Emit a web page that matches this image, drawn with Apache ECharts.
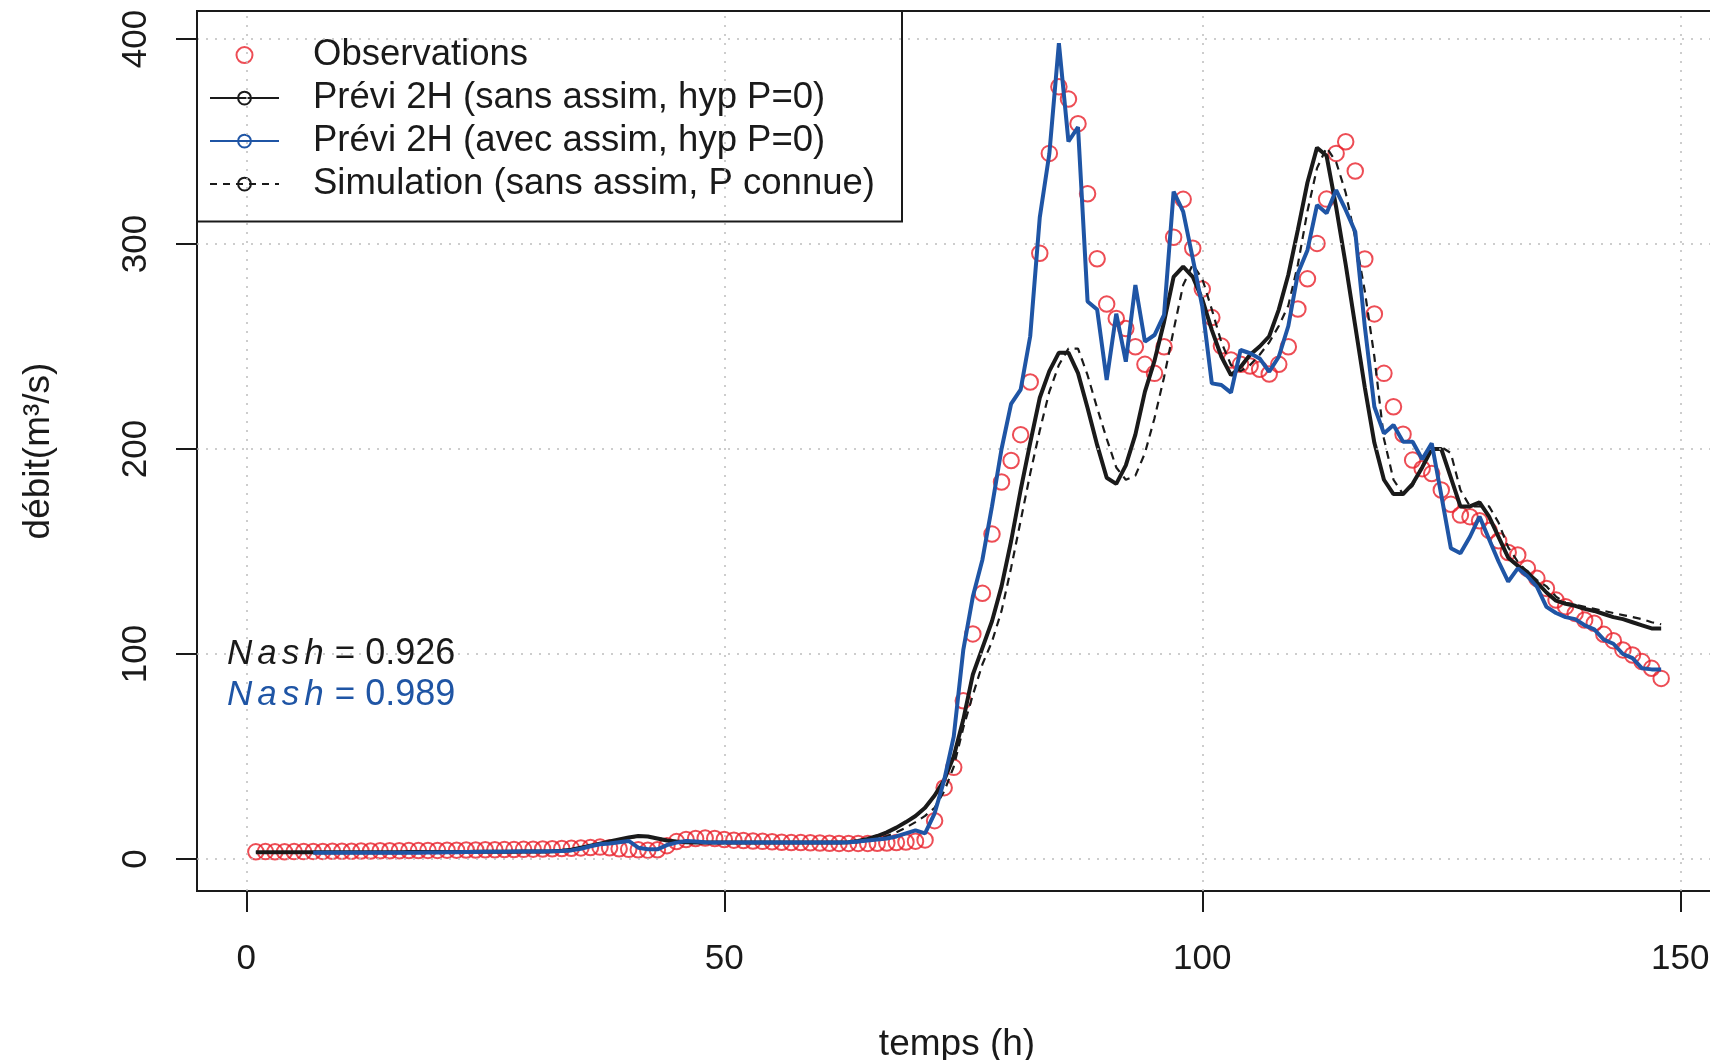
<!DOCTYPE html>
<html><head><meta charset="utf-8">
<script src="https://cdn.jsdelivr.net/npm/echarts@6/dist/echarts.min.js"></script>
<style>html,body{margin:0;padding:0;background:#fff}#c{width:1710px;height:1060px}</style>
</head><body><div id="c"></div>
<script>
// ---- data (hourly values, m3/s) ----
const obsStart = 1;
const obsValues = [
 3.5,3.6,3.5,3.5,3.6,3.6,3.7,3.7,3.8,3.8,
 3.8,3.9,3.9,4.0,4.0,4.0,4.1,4.1,4.2,4.2,
 4.3,4.3,4.4,4.4,4.5,4.5,4.6,4.6,4.7,4.8,
 4.9,5.0,5.1,5.2,5.4,5.6,5.8,5.5,5.0,4.7,
 4.5,4.3,4.5,6.5,8.5,9.5,10.0,10.2,10.0,9.5,
 9.2,9.0,8.8,8.6,8.4,8.2,8.0,8.0,7.9,7.8,
 7.7,7.6,7.6,7.6,7.6,7.7,7.8,8.0,8.3,8.7,
 9.3,18.7,34.8,44.7,77.2,109.8,129.6,158.5,183.9,194.4,
 207,232.7,295.5,344.2,376.7,370.7,358.7,324.5,292.8,270.7,
 263.7,258.8,249.9,241.3,236.9,249.9,303.3,321.8,297.9,278,
 264.1,250.2,243.4,241.3,240.5,238.9,236.6,241.3,249.9,268.3,
 283,300.3,321.9,344.2,349.9,335.6,292.7,265.9,236.9,220.6,
 207.2,194.6,190.4,188,180,173,167.8,167,165,160.3,
 155.2,149.5,148.3,141.8,136.9,132,126.3,123.1,119.8,116.6,
 115,109.6,106.5,102,99.5,96.3,93,88.1
];
const previSansStart = 1;
const previSansValues = [
 3.3,3.3,3.3,3.3,3.3,3.3,3.3,3.3,3.3,3.3,
 3.3,3.3,3.3,3.3,3.3,3.3,3.4,3.4,3.4,3.4,
 3.4,3.4,3.4,3.5,3.5,3.5,3.5,3.5,3.6,3.6,
 3.7,3.8,4.0,4.5,5.5,6.5,7.5,8.5,9.5,10.5,
 11.2,11.0,10.0,9.0,8.5,8.2,8.0,8.0,8.0,8.0,
 8.0,8.0,8.0,8.0,8.0,8.0,8.0,8.0,8.0,8.0,
 8.0,8.0,8.2,8.8,9.8,11.2,13.0,15.3,18.0,21.0,
 25.0,31.0,38.5,50.0,68.0,90.0,103.0,116.0,133.0,155.0,
 180.0,203.0,225.0,238.0,247.0,247.0,237.0,220.0,202.0,186.0,
 183.0,192.0,207.0,228.0,243.0,262.0,284.0,289.0,284.0,273.0,
 258.0,245.0,236.0,240.0,246.0,250.0,255.0,268.0,285.0,307.0,
 330.0,347.0,343.0,318.0,290.0,260.0,230.0,203.0,185.0,178.0,
 178.0,183.0,191.0,200.0,200.0,186.0,172.0,172.0,174.0,167.0,
 157.0,147.0,143.0,140.0,135.0,130.0,126.0,124.5,123.5,122.0,
 121.0,119.5,118.0,117.0,115.5,114.0,112.5,112.5
];
const previAvecStart = 7;
const previAvecValues = [
 3.0,3.0,3.0,3.0,
 3.0,3.0,3.0,3.1,3.1,3.1,3.1,3.1,3.2,3.2,
 3.3,3.3,3.4,3.4,3.5,3.5,3.5,3.6,3.6,3.7,
 3.7,3.8,3.9,4.2,5.0,6.2,7.2,7.6,8.2,8.8,
 5.5,4.8,4.7,6.8,8.0,8.8,8.5,8.2,8.0,8.0,
 8.0,8.0,8.0,8.0,8.0,8.0,8.0,8.0,8.0,8.0,
 8.0,8.0,8.2,8.5,9.0,9.5,10.0,11.0,12.5,14.0,
 12.5,22.3,38.5,59.7,102.0,128.0,146.0,172.0,200.0,222.0,
 229.0,255.0,313.0,344.0,398.0,350.0,357.0,272.0,268.0,233.7,
 266.0,242.6,280.0,252.4,255.6,265.4,325.5,315.8,293.0,269.4,
 232.0,231.2,227.5,248.3,246.7,244.2,237.7,245.0,260.0,285.7,
 297.0,319.0,315.0,326.3,316.6,306.0,259.7,220.6,207.6,211.7,
 203.5,203.5,195.0,202.8,177.5,151.6,149.1,157.2,167.0,156.0,
 145.0,135.3,141.8,138.0,132.8,123.0,120.0,118.0,117.0,114.0,
 112.0,107.0,105.0,100.0,98.0,93.0,92.5,92.5
];
const simStart = 1;
const simValues = [
 3.3,3.3,3.3,3.3,3.3,3.3,3.3,3.3,3.3,3.3,
 3.3,3.3,3.3,3.3,3.3,3.3,3.4,3.4,3.4,3.4,
 3.4,3.4,3.4,3.5,3.5,3.5,3.5,3.5,3.6,3.6,
 3.7,3.8,3.9,4.3,5.2,6.2,7.2,8.2,9.2,10.2,
 11.0,11.0,10.2,9.2,8.6,8.2,8.0,8.0,8.0,8.0,
 8.0,8.0,8.0,8.0,8.0,8.0,8.0,8.0,8.0,8.0,
 8.0,8.0,8.0,8.2,8.8,9.8,11.2,13.0,15.3,18.0,
 21.0,25.0,33.0,45.0,64.0,80.0,95.0,106.0,121.0,142.0,
 165.0,188.0,209.0,228.0,241.0,249.0,249.0,236.0,220.0,205.0,
 191.0,185.0,187.0,198.0,215.0,235.0,258.0,280.0,290.0,283.0,
 268.0,252.0,241.0,238.0,241.0,246.0,252.0,260.0,270.0,290.0,
 316.0,337.0,347.0,340.0,325.0,303.0,277.0,245.0,205.0,185.0,
 178.0,182.0,192.0,199.0,201.0,198.0,180.0,172.0,172.0,172.0,
 164.0,152.0,145.0,140.0,136.0,133.0,128.0,125.0,124.0,123.0,
 122.0,121.0,120.0,119.0,118.0,117.0,115.5,114.5
];
const xTicks = [0, 50, 100, 150];
const yTicks = [0, 100, 200, 300, 400];
const seriesNames = ['Observations', 'Prévi 2H (sans assim, hyp P=0)', 'Prévi 2H (avec assim, hyp P=0)', 'Simulation (sans assim, P connue)'];
const nashLabel = 'Nash';
const nashSans = '0.926';
const nashAvec = '0.989';
const xTitle = 'temps (h)';
const yTitle = 'débit(m³/s)';

// ---- styling ----
const FONT = "'Liberation Sans', Arial, Helvetica, sans-serif";
const FS = 35;
const FS_LEG = 36.5;
const FS_TITLE = 37;
const RED = '#e8202a', BLACK = '#1a1a1a', BLUE = '#1f55a5', TXT = '#1a1a1a';
const pairs = (start, vals) => vals.map((v, i) => [start + i, v]);
const CIRCLE_PATH = 'path://M50,0A50,50,0,1,1,50,100A50,50,0,1,1,50,0Z';

const gridLines = xTicks.map(v => ({xAxis: v})).concat(yTicks.map(v => ({yAxis: v})));

function nashText(value, color) {
  const letters = nashLabel.split('');
  const parts = letters.map((ch, i) => '{' + (i < letters.length - 1 ? 'i' : 'j') + '|' + ch + '}').join('');
  return {
    text: parts + '{e|=}{n|' + value + '}', verticalAlign: 'middle', fill: color,
    rich: {
      i: {fontStyle: 'italic', fontSize: FS, fontFamily: FONT, fill: color, padding: [0, 5, 0, 0]},
      j: {fontStyle: 'italic', fontSize: FS, fontFamily: FONT, fill: color, padding: [0, 11, 0, 0]},
      e: {fontSize: FS, fontFamily: FONT, fill: color, padding: [0, 10, 0, 0]},
      n: {fontSize: 36, fontFamily: FONT, fill: color}
    }
  };
}

const chart = echarts.init(document.getElementById('c'), null, {renderer: 'canvas'});
chart.setOption({
  animation: false,
  backgroundColor: '#fff',
  textStyle: {fontFamily: FONT},
  grid: {left: 197, top: 11, width: 1520, height: 880, show: true, borderColor: BLACK, borderWidth: 2,
         containLabel: false, outerBoundsMode: 'none'},
  xAxis: {
    type: 'value', min: -5.157, max: 153.84,
    name: xTitle, nameLocation: 'middle', nameGap: 135.5,
    nameTextStyle: {fontSize: FS_TITLE, color: TXT, fontFamily: FONT},
    axisLine: {show: false, onZero: false},
    splitLine: {show: false},
    axisTick: {show: true, length: 21, lineStyle: {color: BLACK, width: 2}, customValues: xTicks},
    axisLabel: {customValues: xTicks, margin: 50.5, fontSize: FS, color: TXT, fontFamily: FONT}
  },
  yAxis: {
    type: 'value', min: -15.61, max: 413.66,
    name: yTitle, nameLocation: 'middle', nameGap: 140,
    nameTextStyle: {fontSize: FS_TITLE, color: TXT, fontFamily: FONT},
    axisLine: {show: false, onZero: false},
    splitLine: {show: false},
    axisTick: {show: true, length: 21, lineStyle: {color: BLACK, width: 2}, customValues: yTicks},
    axisLabel: {customValues: yTicks, rotate: 90, margin: 43, fontSize: FS, color: TXT, fontFamily: FONT}
  },
  legend: {
    show: true, orient: 'vertical', left: 209, top: 36.6, padding: 0, itemGap: 6,
    itemWidth: 69, itemHeight: 16, selectedMode: false, align: 'left',
    textStyle: {color: TXT, fontSize: FS_LEG, fontFamily: FONT, padding: [0, 0, 0, 29]},
    data: [
      {name: seriesNames[0], icon: CIRCLE_PATH, itemStyle: {color: 'rgba(0,0,0,0)', borderColor: RED, borderWidth: 2}},
      {name: seriesNames[1], itemStyle: {color: 'rgba(0,0,0,0)', borderColor: BLACK, borderWidth: 2}, lineStyle: {color: BLACK, width: 2, type: 'solid'}},
      {name: seriesNames[2], itemStyle: {color: 'rgba(0,0,0,0)', borderColor: BLUE, borderWidth: 2}, lineStyle: {color: BLUE, width: 2, type: 'solid'}},
      {name: seriesNames[3], itemStyle: {color: 'rgba(0,0,0,0)', borderColor: BLACK, borderWidth: 2}, lineStyle: {color: BLACK, width: 2, type: [7, 6]}}
    ]
  },
  graphic: [
    {type: 'rect', silent: true, z: 10, shape: {x: 197, y: 11, width: 705, height: 210.5},
     style: {fill: 'none', stroke: BLACK, lineWidth: 2}},
    {type: 'text', silent: true, z: 10, x: 227, y: 654, style: nashText(nashSans, BLACK)},
    {type: 'text', silent: true, z: 10, x: 227, y: 695, style: nashText(nashAvec, BLUE)}
  ],
  series: [
    {type: 'line', name: '_grid', data: [[0, 0]], symbol: 'none', silent: true, z: 1,
     lineStyle: {opacity: 0},
     markLine: {silent: true, symbol: ['none', 'none'], label: {show: false}, animation: false,
       lineStyle: {color: '#bdbdbd', width: 1.5, type: [2, 7]}, emphasis: {disabled: true},
       data: gridLines}},
    {type: 'scatter', name: seriesNames[0], data: pairs(obsStart, obsValues), z: 2,
     symbol: 'circle', symbolSize: 15.5,
     itemStyle: {color: 'rgba(0,0,0,0)', borderColor: RED, borderWidth: 2}},
    {type: 'line', name: seriesNames[3], data: pairs(simStart, simValues), z: 3,
     symbol: 'circle', showSymbol: false, itemStyle: {color: BLACK},
     lineStyle: {color: BLACK, width: 2.2, type: [8, 6]}},
    {type: 'line', name: seriesNames[1], data: pairs(previSansStart, previSansValues), z: 4,
     symbol: 'circle', showSymbol: false, itemStyle: {color: BLACK},
     lineStyle: {color: BLACK, width: 4}},
    {type: 'line', name: seriesNames[2], data: pairs(previAvecStart, previAvecValues), z: 5,
     symbol: 'circle', showSymbol: false, itemStyle: {color: BLUE},
     lineStyle: {color: BLUE, width: 4}}
  ]
});
</script></body></html>
